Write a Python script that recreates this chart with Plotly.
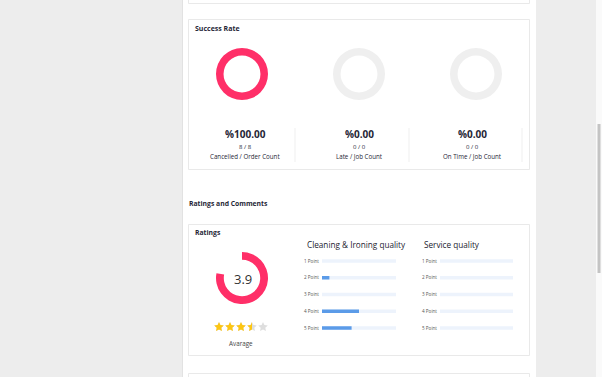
import math
import plotly.graph_objects as go

W, H = 602, 377
FONT = "Open Sans"
DARK = "#262636"
RED = "#ff2f68"
RING_GREY = "#efefef"
GOLD = "#fdc613"
STAR_GREY = "#dedede"
BAR_BLUE = "#5b9be8"
TRACK = "#edf3fc"

# ---------------- data ----------------
success_labels = ["Cancelled / Order Count", "Late / Job Count", "On Time / Job Count"]
success_counts = [8, 0, 0]
success_totals = [8, 0, 0]

rating_value = 3.9
rating_max = 5

point_labels = ["1 Point", "2 Point", "3 Point", "4 Point", "5 Point"]
cleaning_share = [0.0, 0.10, 0.0, 0.50, 0.40]
service_share = [0.0, 0.0, 0.0, 0.0, 0.0]


def px(x):
    return x / W


def py(y):
    return 1 - y / H


fig = go.Figure()
shapes = []
annotations = []


def rect(x0, y0, x1, y1, fill, line=None, lw=0):
    shapes.append(dict(type="rect", xref="paper", yref="paper",
                       x0=px(x0), x1=px(x1), y0=py(y1), y1=py(y0),
                       fillcolor=fill, line=dict(color=line or fill, width=lw),
                       layer="below"))


def text(x, y, s, size, color=DARK, xanchor="center", bold=False):
    annotations.append(dict(xref="paper", yref="paper", x=px(x), y=py(y),
                            text=f"<b>{s}</b>" if bold else s, showarrow=False,
                            xanchor=xanchor, yanchor="middle", borderpad=0,
                            font=dict(family=FONT, size=size, color=color)))


# page background
rect(0, 0, 602, 377, "#ededed")
rect(182, 0, 536, 377, "#ffffff")
shapes.append(dict(type="line", xref="paper", yref="paper", x0=px(182.5), x1=px(182.5),
                   y0=0, y1=1, line=dict(color="#e2e2e2", width=1), layer="below"))
rect(596, 0, 602, 377, "#fafafa")
rect(597.5, 124, 600.5, 273, "#c4c4c4")

# cards
for (y0, y1) in [(-5, 3), (19, 169), (224, 355), (373, 395)]:
    rect(188.5, y0 + 0.5, 529.5, y1 + 0.5, "#ffffff", "#e9e9e9", 1)

text(194, 28.5, "Success Rate", 7, bold=True, xanchor="left")
text(188, 203, "Ratings and Comments", 6.8, bold=True, xanchor="left")
text(194, 232.5, "Ratings", 6.8, bold=True, xanchor="left")

# ---------------- success rate donuts ----------------
ring_cx = [242, 359, 476]
text_cx = [245, 359, 472]
R = 26
for i, lab in enumerate(success_labels):
    c, t = success_counts[i], success_totals[i]
    rest = (t - c) if t > 0 else 1
    fig.add_trace(go.Pie(values=[c, rest], marker=dict(colors=[RED, RING_GREY], line=dict(width=0)),
                         hole=0.71, sort=False, direction="clockwise", textinfo="none",
                         hoverinfo="skip", showlegend=False,
                         domain=dict(x=[px(ring_cx[i] - R), px(ring_cx[i] + R)],
                                     y=[py(74 + R), py(74 - R)])))
    pct = 100.0 * c / t if t else 0.0
    text(text_cx[i], 134, f"%{pct:.2f}", 10, bold=True)
    text(text_cx[i], 147, f"{c} / {t}", 6)
    text(text_cx[i], 156.5, lab, 6.2)

for xs in [295, 409, 522]:
    shapes.append(dict(type="line", xref="paper", yref="paper", x0=px(xs), x1=px(xs),
                       y0=py(162), y1=py(128), line=dict(color="#efefef", width=1)))

# ---------------- rating donut ----------------
fig.add_trace(go.Pie(values=[rating_value, rating_max - rating_value],
                     marker=dict(colors=[RED, "rgba(0,0,0,0)"], line=dict(width=0)),
                     hole=0.70, sort=False, direction="clockwise", rotation=0,
                     textinfo="none", hoverinfo="skip", showlegend=False,
                     domain=dict(x=[px(242 - R), px(242 + R)], y=[py(278 + R), py(278 - R)])))
text(243, 279, f"{rating_value:.1f}", 13, color="#333333")
text(241, 343, "Avarage", 6.3, color="#444444")


# ---------------- stars ----------------
def star_pts(cx, cy, ro=0.46, ri=0.22):
    pts = []
    for k in range(10):
        a = math.pi / 2 + k * math.pi / 5
        r = ro if k % 2 == 0 else ri
        pts.append((cx + r * math.cos(a), cy + r * math.sin(a)))
    return pts


def clip_left(pts, xc):
    out = []
    n = len(pts)
    for k in range(n):
        p, q = pts[k], pts[(k + 1) % n]
        pin, qin = p[0] <= xc, q[0] <= xc
        if pin:
            out.append(p)
        if pin != qin:
            t = (xc - p[0]) / (q[0] - p[0])
            out.append((xc, p[1] + t * (q[1] - p[1])))
    return out


def add_poly(pts, color):
    xs = [p[0] for p in pts] + [pts[0][0]]
    ys = [p[1] for p in pts] + [pts[0][1]]
    fig.add_trace(go.Scatter(x=xs, y=ys, mode="lines", fill="toself", fillcolor=color,
                             line=dict(width=0, color=color), hoverinfo="skip",
                             showlegend=False, xaxis="x3", yaxis="y3"))


shown = math.floor(rating_value * 2) / 2
for s in range(1, rating_max + 1):
    pts = star_pts(s, 0)
    add_poly(pts, STAR_GREY)
    if shown >= s:
        add_poly(pts, GOLD)
    elif shown > s - 1:
        frac = shown - (s - 1)
        add_poly(clip_left(pts, s - 0.5 + frac), GOLD)

# ---------------- point bars ----------------
row_top, row_bot = 252.6, 336.4
for share, xa, ya, x0, x1 in [(cleaning_share, "x4", "y4", 322, 396),
                              (service_share, "x5", "y5", 440, 513)]:
    fig.add_trace(go.Bar(y=point_labels, x=[1] * len(point_labels), orientation="h",
                         marker=dict(color=TRACK, line=dict(width=0)), width=0.2,
                         hoverinfo="skip", showlegend=False, xaxis=xa, yaxis=ya))
    fig.add_trace(go.Bar(y=point_labels, x=share, orientation="h",
                         marker=dict(color=BAR_BLUE, line=dict(width=0)), width=0.2,
                         hoverinfo="skip", showlegend=False, xaxis=xa, yaxis=ya))

text(306, 244.5, "Cleaning & Ironing quality", 8.2, xanchor="left", color="#22222f")
text(423, 244.5, "Service quality", 8.2, xanchor="left", color="#22222f")

hidden = dict(showgrid=False, zeroline=False, showticklabels=False, ticks="", showline=False,
              fixedrange=True)
ylab = dict(showgrid=False, zeroline=False, showline=False, ticks="", fixedrange=True,
            tickfont=dict(family=FONT, size=4.6, color="#555555"), autorange="reversed",
            ticklabelstandoff=2)

fig.update_layout(
    width=W, height=H, margin=dict(l=0, r=0, t=0, b=0),
    paper_bgcolor="#ededed", plot_bgcolor="rgba(0,0,0,0)",
    shapes=shapes, annotations=annotations, barmode="overlay",
    xaxis3=dict(domain=[px(213.5), px(268.5)], range=[0.5, 5.5], anchor="y3", **hidden),
    yaxis3=dict(domain=[py(332.5), py(321.5)], range=[-0.5, 0.5], anchor="x3", **hidden),
    xaxis4=dict(domain=[px(322), px(396)], range=[0, 1], anchor="y4", **hidden),
    yaxis4=dict(domain=[py(row_bot), py(row_top)], anchor="x4", **ylab),
    xaxis5=dict(domain=[px(440), px(513)], range=[0, 1], anchor="y5", **hidden),
    yaxis5=dict(domain=[py(row_bot), py(row_top)], anchor="x5", **ylab),
    xaxis=dict(visible=False), yaxis=dict(visible=False),
)

fig.write_html("out.html", config={"displayModeBar": False})
